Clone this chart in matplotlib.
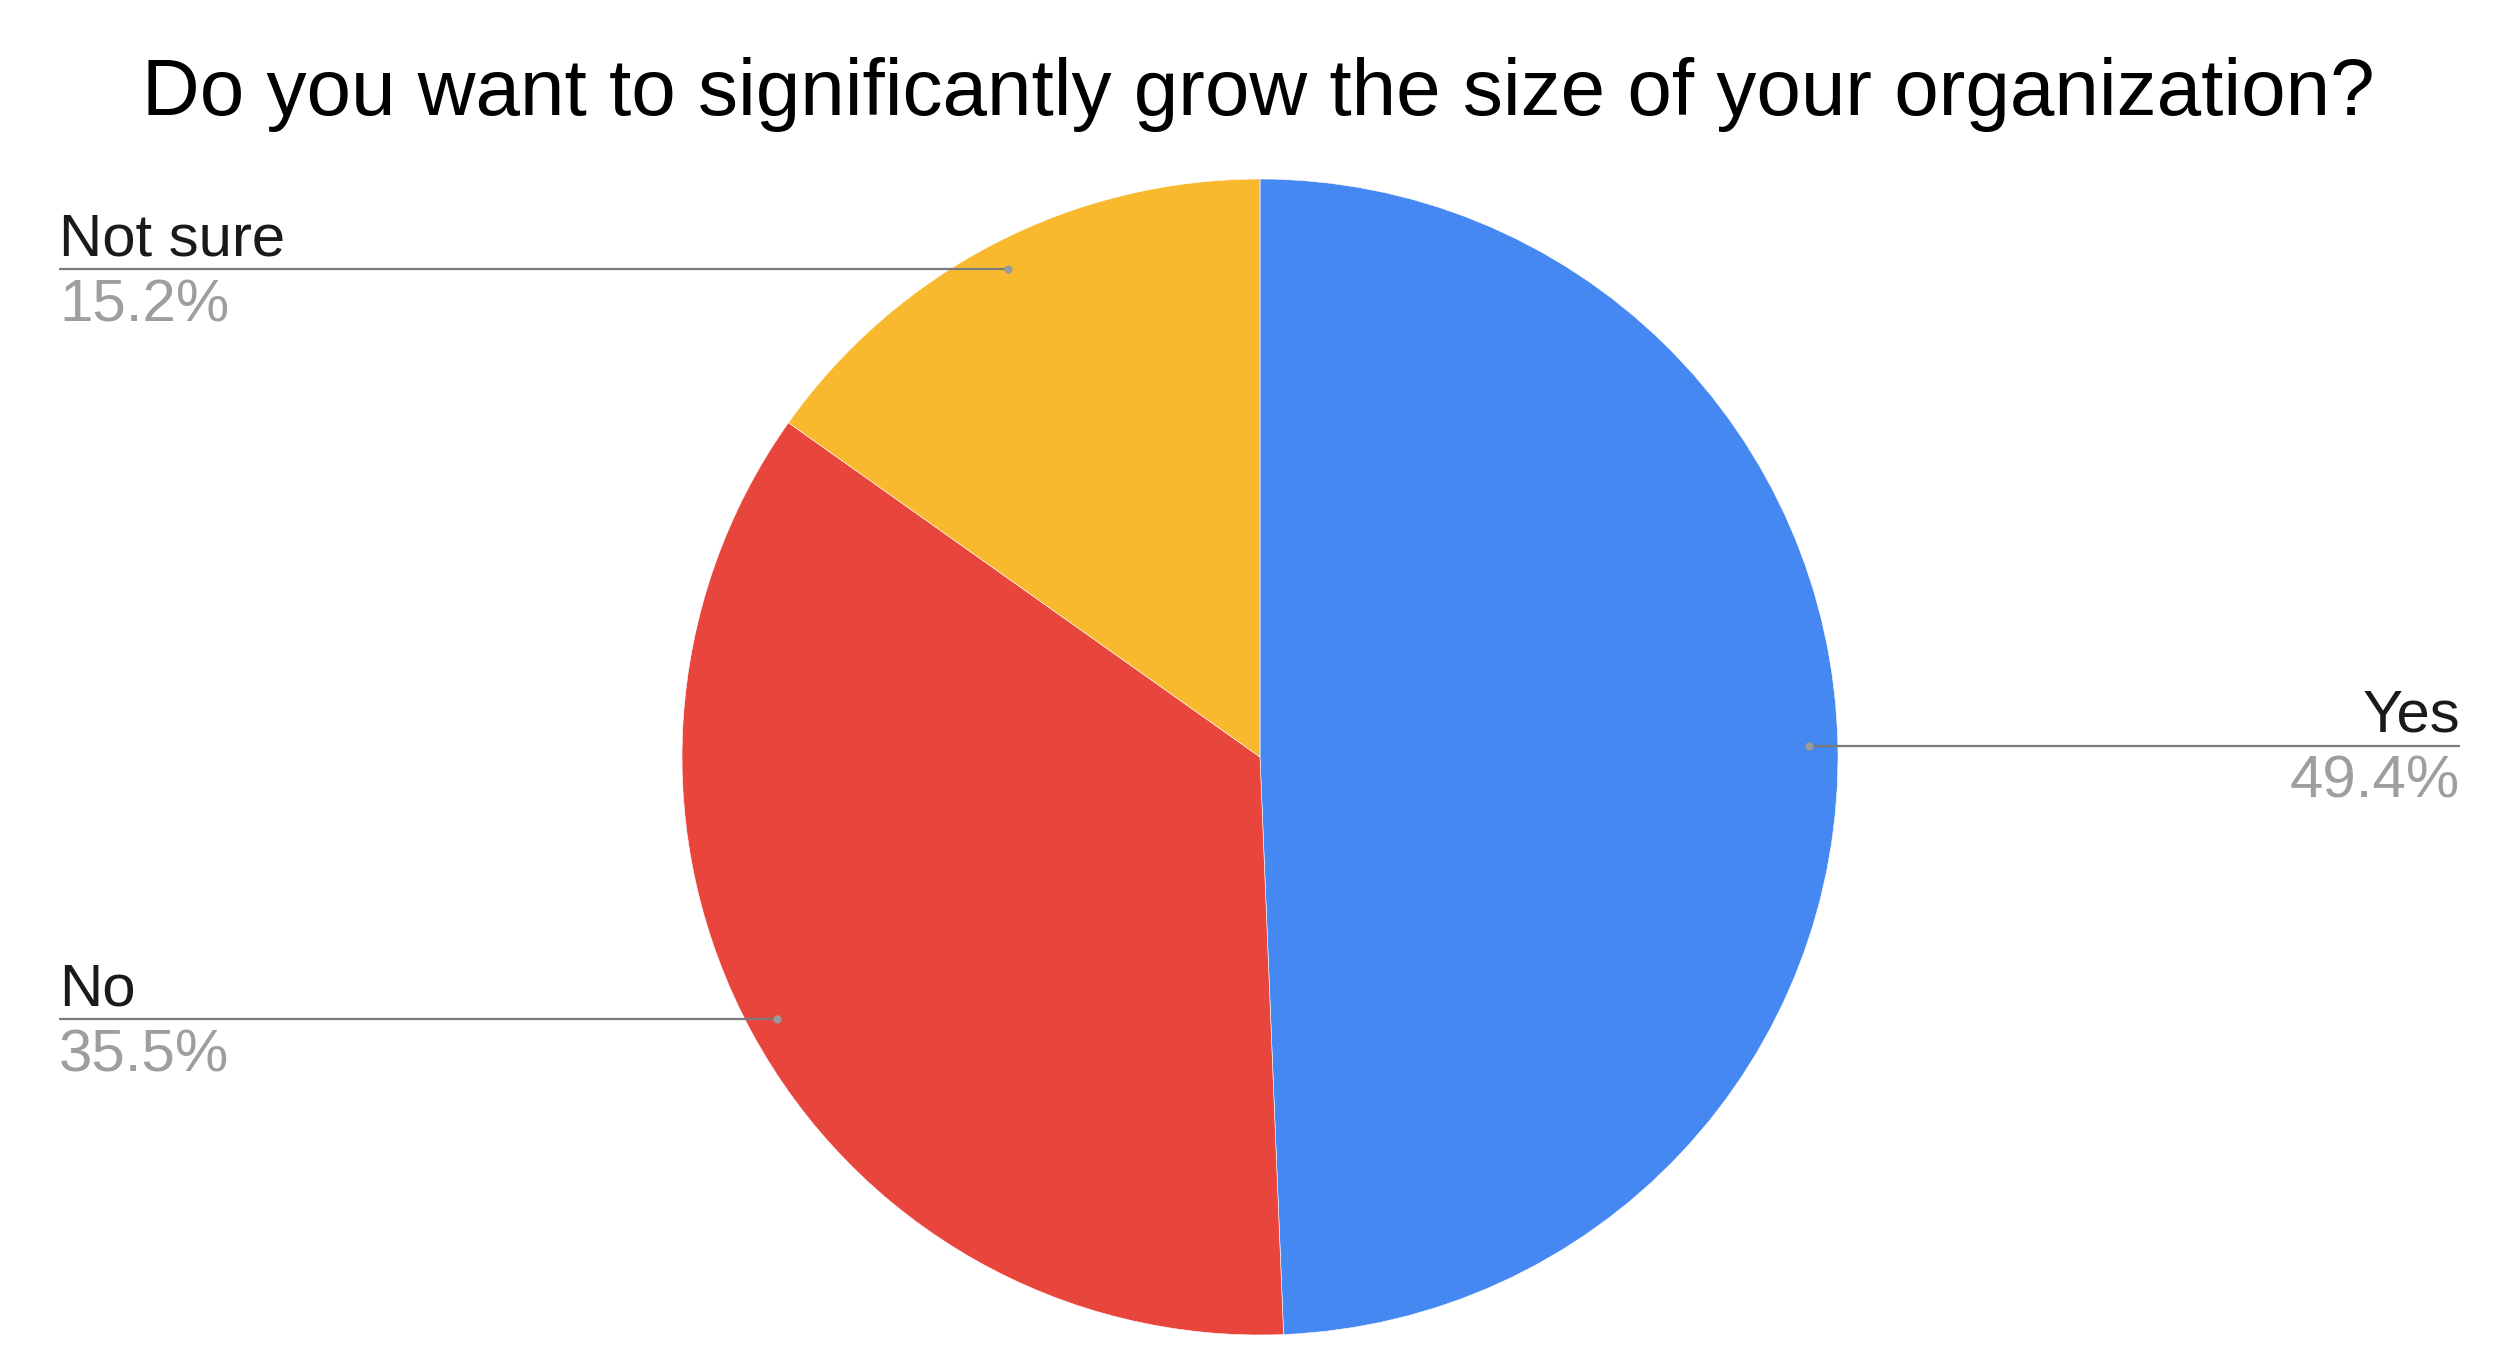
import matplotlib
matplotlib.use("Agg")
import matplotlib.pyplot as plt
import numpy as np

title = "Do you want to significantly grow the size of your organization?"
categories = ["Yes", "No", "Not sure"]
values = [49.4, 35.5, 15.2]
colors = ["#4688F1", "#E8453C", "#F8B92E"]

plt.rcParams["font.family"] = ["Liberation Sans", "DejaVu Sans"]

W, H = 2516, 1352
fig = plt.figure(figsize=(W / 100, H / 100), dpi=100)
ax = fig.add_axes([0, 0, 1, 1])

cx, cy, R = 1260, H - 757, 578
wedges, _ = ax.pie(values, colors=colors, startangle=90, counterclock=False,
                   center=(cx, cy), radius=R,
                   wedgeprops=dict(linewidth=0.4, edgecolor="white"))
ax.set_xlim(0, W)
ax.set_ylim(0, H)
ax.set_aspect("auto")
ax.axis("off")

ax.text(1258, H - 115, title, ha="center", va="baseline", fontsize=57.6, color="black")

left_x, right_x = 59, 2460
for w, cat, v in zip(wedges, categories, values):
    mid = np.deg2rad((w.theta1 + w.theta2) / 2)
    dx = cx + 0.95 * R * np.cos(mid)
    dy = cy + 0.95 * R * np.sin(mid)
    if dx < cx:
        ex, ha = left_x, "left"
    else:
        ex, ha = right_x, "right"
    ax.plot([dx, ex], [dy, dy], color="#7a7a7a", lw=1.6, solid_capstyle="butt", zorder=3)
    ax.plot([dx], [dy], "o", color="#9a9a9a", ms=5, zorder=4)
    ax.text(ex, dy + 14, cat, ha=ha, va="baseline", fontsize=43.2, color="#1a1a1a")
    ax.text(ex, dy - 52, f"{v:.1f}%", ha=ha, va="baseline", fontsize=43.2, color="#9e9e9e")

fig.savefig("out.png", dpi=100, facecolor="white")
